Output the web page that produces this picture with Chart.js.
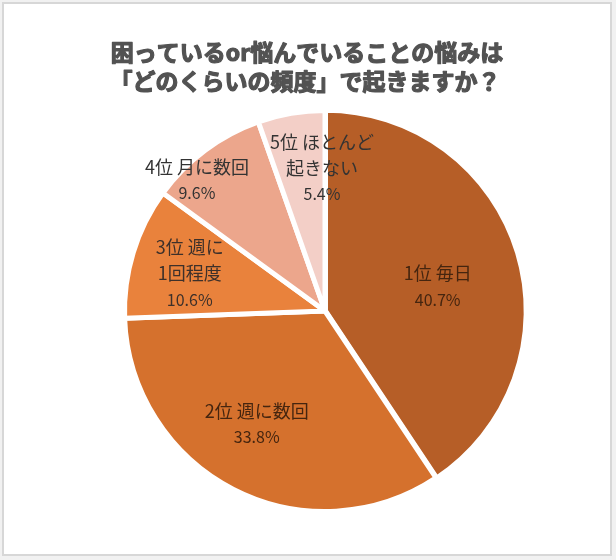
<!DOCTYPE html>
<html>
<head>
<meta charset="utf-8">
<script src="https://cdn.jsdelivr.net/npm/chart.js@4.4.0/dist/chart.umd.min.js"></script>
<style>
  html, body { margin: 0; padding: 0; background: #ffffff; }
  #wrap { position: relative; width: 616px; height: 560px; }
</style>
</head>
<body>
<div id="wrap"><canvas id="c"></canvas></div>
<script>
// ---- data ----
const titleLines = ['困っているor悩んでいることの悩みは', '「どのくらいの頻度」で起きますか？'];
const categories = [
  ['1位 毎日'],
  ['2位 週に数回'],
  ['3位 週に', '1回程度'],
  ['4位 月に数回'],
  ['5位 ほとんど', '起きない']
];
const values = [40.7, 33.8, 10.6, 9.6, 5.4];

// ---- styles ----
const sliceColors = ['#B65E27', '#D5712D', '#E9823C', '#ECA68C', '#F3CFC7'];
const labelColors = ['#45250f', '#45250f', '#3d302a', '#333333', '#333333'];
// label placement: [fraction of radius, angle shift in degrees]
const labelPlace = [[0.575, 4.6], [0.66, 3.9], [0.70, -1.5], [0.915, -7.6], [0.715, 8.5]];

const framePlugin = {
  id: 'frame',
  beforeDraw(chart) {
    const ctx = chart.ctx;
    ctx.save();
    ctx.fillStyle = '#f1f1f1';
    ctx.fillRect(0, 0, chart.width, chart.height);
    ctx.fillStyle = '#ffffff';
    ctx.fillRect(3, 3, 608, 552);
    ctx.strokeStyle = '#d7d7d7';
    ctx.lineWidth = 2;
    ctx.strokeRect(3, 3, 608, 552);
    ctx.restore();
  },
  afterDraw(chart) {
    const ctx = chart.ctx;
    ctx.save();
    ctx.fillStyle = '#525252';
    ctx.strokeStyle = '#525252';
    ctx.lineWidth = 1.2;
    ctx.lineJoin = 'round';
    ctx.font = 'bold 23px "Noto Sans CJK JP"';
    ctx.textAlign = 'center';
    ctx.textBaseline = 'middle';
    [[titleLines[0], 307, 52], [titleLines[1], 305, 81]].forEach(([t, x, y]) => {
      ctx.strokeText(t, x, y);
      ctx.fillText(t, x, y);
    });
    ctx.restore();
  }
};

const labelPlugin = {
  id: 'sliceLabels',
  afterDatasetsDraw(chart) {
    const ctx = chart.ctx;
    const meta = chart.getDatasetMeta(0);
    ctx.save();
    ctx.textAlign = 'center';
    ctx.textBaseline = 'middle';
    meta.data.forEach((arc, i) => {
      const p = arc.getProps(['x', 'y', 'startAngle', 'endAngle', 'outerRadius'], true);
      const mid = (p.startAngle + p.endAngle) / 2 + labelPlace[i][1] * Math.PI / 180;
      const r = p.outerRadius * labelPlace[i][0];
      const cx = p.x + Math.cos(mid) * r;
      const cy = p.y + Math.sin(mid) * r;
      const lines = categories[i].concat([values[i].toFixed(1) + '%']);
      const lh = 26;
      const top = cy - (lines.length - 1) * lh / 2;
      ctx.fillStyle = labelColors[i];
      lines.forEach((t, k) => {
        ctx.font = (k === lines.length - 1) ? '16px "Noto Sans CJK JP"' : '18px "Noto Sans CJK JP"';
        ctx.fillText(t, cx, top + k * lh);
      });
    });
    ctx.restore();
  }
};

new Chart(document.getElementById('c'), {
  type: 'pie',
  data: {
    labels: categories.map(c => c.join('')),
    datasets: [{
      data: values,
      backgroundColor: sliceColors,
      borderColor: '#ffffff',
      borderWidth: 5,
      offset: [2, 0, 0, 0, 0]
    }]
  },
  options: {
    responsive: true,
    maintainAspectRatio: false,
    animation: false,
    layout: { padding: { left: 121, top: 107, right: 87, bottom: 45 } },
    plugins: {
      legend: { display: false },
      tooltip: { enabled: false },
      title: { display: false }
    }
  },
  plugins: [framePlugin, labelPlugin]
});
</script>
</body>
</html>
